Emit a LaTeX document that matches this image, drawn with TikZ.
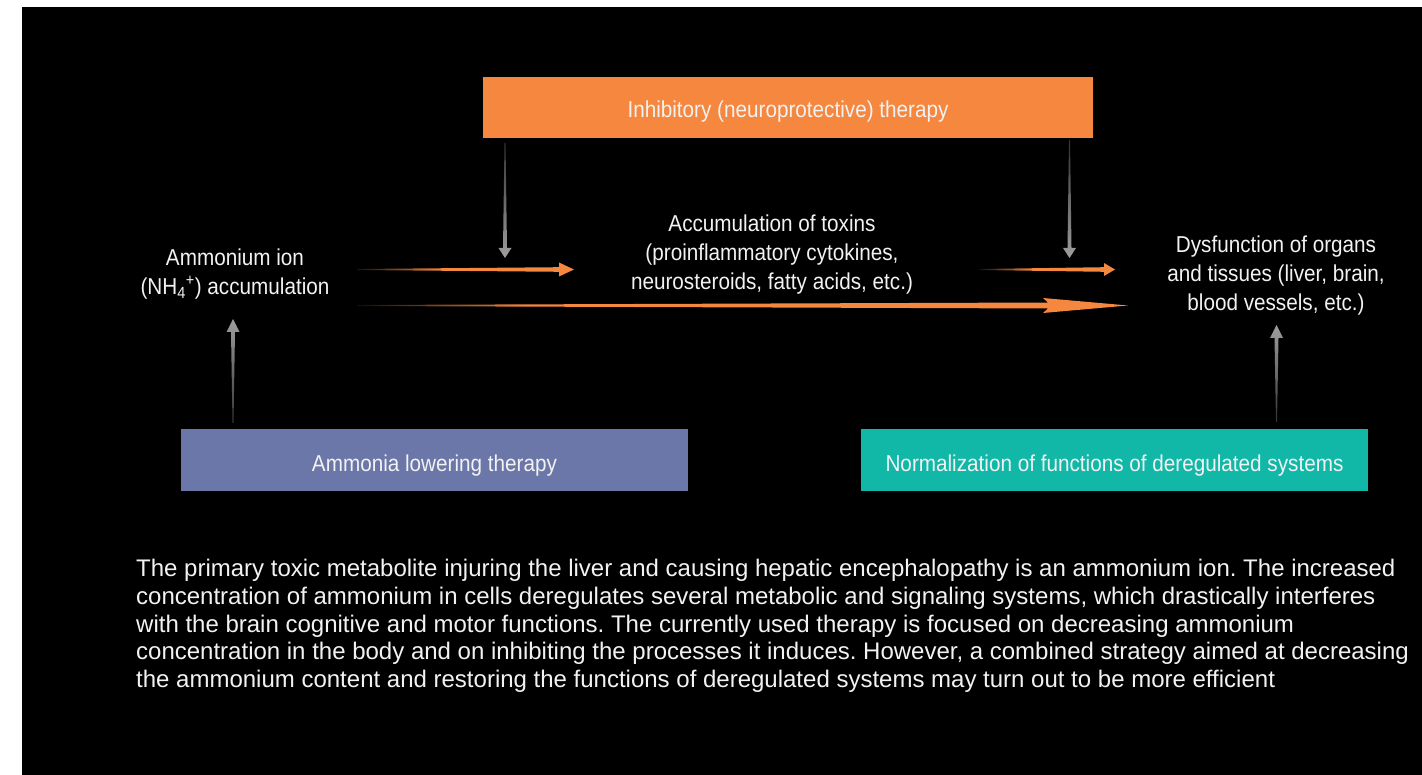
\documentclass[tikz,border=0pt]{standalone}
\usepackage{fontspec}
\setmainfont{Liberation Sans}
\newfontfamily\condfont[FakeStretch=0.90]{Liberation Sans}
\usetikzlibrary{calc}
\definecolor{boxorange}{HTML}{F5873F}
\definecolor{boxblue}{HTML}{6A77A8}
\definecolor{boxteal}{HTML}{11B8A7}
\definecolor{arroworange}{HTML}{F5873F}
\definecolor{txtwhite}{HTML}{F2F2F2}
\pgfdeclarehorizontalshading{ofadeS}{100bp}{color(0bp)=(arroworange!12!black); color(25bp)=(arroworange!12!black); color(45bp)=(arroworange); color(100bp)=(arroworange)}
\pgfdeclarehorizontalshading{ofadeL}{100bp}{color(0bp)=(arroworange!8!black); color(25bp)=(arroworange!8!black); color(36bp)=(arroworange); color(100bp)=(arroworange)}
\tikzset{
  box/.style={inner sep=0pt, text=txtwhite, font=\condfont\fontsize{23}{28}\selectfont},
  lbl/.style={align=center, inner sep=0pt, text=txtwhite, font=\condfont\fontsize{23}{29}\selectfont},
  para/.style={align=left, inner sep=0pt, text=txtwhite, font=\fontsize{24}{27.75}\selectfont},
  oarrow/.style={shade, shading=ofadeS},
  olong/.style={shade, shading=ofadeL},
  gdown/.style={top color=black!80, bottom color=black!38},
  gup/.style={top color=black!38, bottom color=black!80},
}
% #1 style, #2 tail, #3 tip, #4 shaft half width, #5 head length, #6 head half width, #7 barb shift
\newcommand{\taperarrow}[7]{%
  \coordinate (hb) at ($(#3)!#5!(#2)$);
  \coordinate (hc) at ($(hb)!#7!(#3)$);
  \path[#1] ($(#2)!0.5pt!90:(#3)$) -- ($(hb)!#4!90:(#3)$) -- ($(hc)!#6!90:(#3)$)
    -- (#3) -- ($(hc)!#6!-90:(#3)$) -- ($(hb)!#4!-90:(#3)$) -- ($(#2)!0.5pt!-90:(#3)$) -- cycle;
}
\frenchspacing
\begin{document}
\begin{tikzpicture}[x=1pt, y=-1pt]
\useasboundingbox (0,0) rectangle (1422,775);
\fill[white] (0,0) rectangle (1422,775);
\fill[black] (22,7) rectangle (1422,775);

% boxes
\node[box, fill=boxorange, minimum width=610pt, minimum height=61pt, text height=22pt, text depth=2pt] (inhib) at (788,107.5) {Inhibitory (neuroprotective) therapy};
\node[box, fill=boxblue, minimum width=507pt, minimum height=62pt, text height=24pt, text depth=1pt] (alt) at (434.5,460) {Ammonia lowering therapy};
\node[box, fill=boxteal, minimum width=507pt, minimum height=62pt, text height=24pt, text depth=1pt] (norm) at (1114.5,460) {Normalization of functions of deregulated systems};

% labels
\node[lbl] (amm) at (235,274.5) {Ammonium ion\\(NH\textsubscript{4}\textsuperscript{+}) accumulation};
\node[lbl] (tox) at (772,254.5) {Accumulation of toxins\\(proinflammatory cytokines,\\neurosteroids, fatty acids, etc.)};
\node[lbl] (dys) at (1276,275.5) {Dysfunction of organs\\and tissues (liver, brain,\\blood vessels, etc.)};

% paragraph
\node[para, anchor=north west] (txt) at (136,559) {The primary toxic metabolite injuring the liver and causing hepatic encephalopathy is an ammonium ion. The increased\\concentration of ammonium in cells deregulates several metabolic and signaling systems, which drastically interferes\\with the brain cognitive and motor functions. The currently used therapy is focused on decreasing ammonium\\concentration in the body and on inhibiting the processes it induces. However, a combined strategy aimed at decreasing\\the ammonium content and restoring the functions of deregulated systems may turn out to be more efficient};

% arrow end points
\coordinate (a1t) at (357,269.5);
\coordinate (a1h) at (574,269.5);
\coordinate (a2t) at (357,305.5);
\coordinate (a2h) at (1128,305.5);
\coordinate (a3t) at (980,269.5);
\coordinate (a3h) at (1115,269.5);
\coordinate (d1t) at (505,143);
\coordinate (d1h) at (505,258);
\coordinate (d2t) at (1069.5,140);
\coordinate (d2h) at (1069.5,258);
\coordinate (u1t) at (233,423);
\coordinate (u1h) at (233,319);
\coordinate (u2t) at (1276.5,422);
\coordinate (u2h) at (1276.5,325);

% orange arrows
\taperarrow{oarrow}{a1t}{a1h}{2.3pt}{15pt}{7pt}{0pt}
\taperarrow{olong}{a2t}{a2h}{3pt}{80pt}{7.5pt}{-5pt}
\taperarrow{oarrow}{a3t}{a3h}{2.3pt}{11pt}{6.5pt}{0pt}
% grey arrows
\taperarrow{gdown}{d1t}{d1h}{2pt}{10pt}{6.5pt}{0pt}
\taperarrow{gdown}{d2t}{d2h}{2pt}{10pt}{6.5pt}{0pt}
\taperarrow{gup}{u1t}{u1h}{2pt}{13pt}{6.5pt}{0pt}
\taperarrow{gup}{u2t}{u2h}{2pt}{13pt}{6.5pt}{0pt}
\end{tikzpicture}
\end{document}
